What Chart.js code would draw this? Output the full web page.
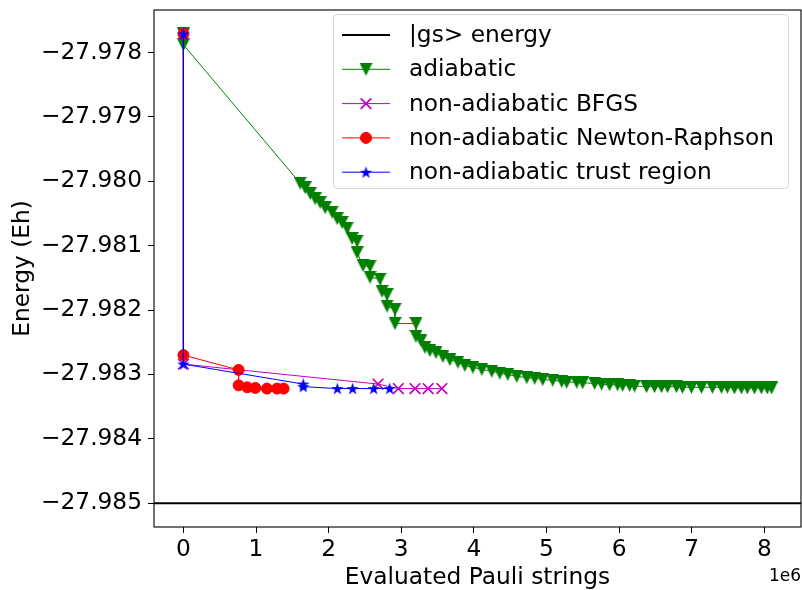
<!DOCTYPE html>
<html>
<head>
<meta charset="utf-8">
<script src="https://cdn.jsdelivr.net/npm/chart.js@4/dist/chart.umd.min.js"></script>
<style>
  html, body { margin: 0; padding: 0; background: #fff; }
</style>
</head>
<body>
<canvas id="chart" width="802" height="590"></canvas>
<script>
// ── Data (x in units of 1e6 evaluated Pauli strings, y in Eh) ────────────────

const gsEnergy = -27.985;

const adiabaticX = [0, 0, 1.608, 1.677, 1.746, 1.814, 1.883, 1.952, 2.048, 2.117, 2.186, 2.254,
  2.323, 2.392, 2.392, 2.474, 2.570, 2.570, 2.708, 2.735, 2.804, 2.804, 2.914, 2.914, 3.203,
  3.203, 3.271, 3.326, 3.395, 3.478, 3.574, 3.670, 3.780, 3.876, 3.986, 4.110, 4.247, 4.357,
  4.467, 4.591, 4.729, 4.838, 4.948, 5.086, 5.210, 5.278, 5.416, 5.498, 5.663, 5.759, 5.869,
  5.979, 6.048, 6.144, 6.213, 6.378, 6.488, 6.584, 6.667, 6.790, 6.873, 6.997, 7.134, 7.285,
  7.409, 7.491, 7.588, 7.684, 7.766, 7.863, 7.959, 8.041, 8.100];
const adiabaticY = [-27.97771, -27.97788, -27.98003, -27.98010, -27.98019, -27.98027, -27.98033,
  -27.98041, -27.98048, -27.98058, -27.98064, -27.98073, -27.98089, -27.98093, -27.98111,
  -27.98131, -27.98132, -27.98149, -27.98152, -27.98171, -27.98176, -27.98194, -27.98199,
  -27.98221, -27.98221, -27.98241, -27.98247, -27.98258, -27.98263, -27.98266, -27.98272,
  -27.98277, -27.98281, -27.98286, -27.98289, -27.98292, -27.98295, -27.98298, -27.98300,
  -27.98303, -27.98305, -27.98306, -27.98308, -27.98309, -27.98311, -27.98312, -27.98312,
  -27.98313, -27.98314, -27.98315, -27.98316, -27.98316, -27.98317, -27.98317, -27.98318,
  -27.98319, -27.98319, -27.98319, -27.98319, -27.98319, -27.98320, -27.98320, -27.98320,
  -27.98320, -27.98320, -27.98320, -27.98321, -27.98321, -27.98321, -27.98321, -27.98321,
  -27.98321, -27.98321];

const bfgsX = [0, 0, 2.68, 2.96, 3.19, 3.37, 3.56];
const bfgsY = [-27.97771, -27.98284, -27.98315, -27.98322, -27.98322, -27.98322, -27.98322];

const newtonX = [0, 0, 0.76, 0.76, 0.88, 0.99, 1.15, 1.29, 1.38];
const newtonY = [-27.97771, -27.98270, -27.98293, -27.98317, -27.98320, -27.98321, -27.98322,
  -27.98322, -27.98322];

const trustX = [0, 0, 1.65, 1.65, 2.12, 2.33, 2.62, 2.84];
const trustY = [-27.97771, -27.98284, -27.98315, -27.98319, -27.98322, -27.98322, -27.98322,
  -27.98322];

const seriesLabels = ['|gs> energy', 'adiabatic', 'non-adiabatic BFGS',
  'non-adiabatic Newton-Raphson', 'non-adiabatic trust region'];

const xTicks = [0, 1, 2, 3, 4, 5, 6, 7, 8];
const yTicks = [-27.985, -27.984, -27.983, -27.982, -27.981, -27.980, -27.979, -27.978];

const xLim = [-0.405, 8.505];
const yLim = [-27.98537, -27.97734];

// ── Markers ─────────────────────────────────────────────────────────────────

const FONT = 'DejaVu Sans';
const FS = 23.3;
const AREA_RIGHT = 801;
const clr = { gs: '#000000', adia: '#008000', bfgs: '#bf00bf', nr: '#ff0000', trust: '#0000ff' };

function triangleDown(color, s) {
  const c = document.createElement('canvas');
  c.width = s; c.height = s;
  const g = c.getContext('2d');
  g.fillStyle = color;
  g.beginPath();
  g.moveTo(0, 0); g.lineTo(s, 0); g.lineTo(s / 2, s);
  g.closePath(); g.fill();
  return c;
}

function starMarker(color, s) {
  const c = document.createElement('canvas');
  c.width = s; c.height = s;
  const g = c.getContext('2d');
  const R = s / 2, r = R * 0.382;
  g.fillStyle = color;
  g.beginPath();
  for (let k = 0; k < 10; k++) {
    const a = -Math.PI / 2 + k * Math.PI / 5;
    const rr = k % 2 ? r : R;
    g.lineTo(R + rr * Math.cos(a), R + rr * Math.sin(a) + 0.5);
  }
  g.closePath(); g.fill();
  return c;
}

const triImg  = triangleDown(clr.adia, 13);
const starImg = starMarker(clr.trust, 13);

const pts = (xs, ys) => xs.map((x, i) => ({ x, y: ys[i] }));

const base = { showLine: true, borderWidth: 1, tension: 0, pointHoverRadius: 0 };

const datasets = [
  { ...base, label: seriesLabels[0], data: [{ x: xLim[0], y: gsEnergy }, { x: xLim[1], y: gsEnergy }],
    borderColor: clr.gs, borderWidth: 2, pointRadius: 0, order: 4, clip: 0 },
  { ...base, label: seriesLabels[1], data: pts(adiabaticX, adiabaticY),
    borderColor: clr.adia, backgroundColor: clr.adia, pointStyle: triImg, pointRadius: 6, order: 3 },
  { ...base, label: seriesLabels[2], data: pts(bfgsX, bfgsY),
    borderColor: clr.bfgs, backgroundColor: clr.bfgs, pointStyle: 'crossRot',
    pointRadius: 7.5, pointBorderWidth: 1.7, order: 2 },
  { ...base, label: seriesLabels[3], data: pts(newtonX, newtonY),
    borderColor: clr.nr, backgroundColor: clr.nr, pointStyle: 'circle',
    pointRadius: 5.5, pointBorderWidth: 1, order: 1 },
  { ...base, label: seriesLabels[4], data: pts(trustX, trustY),
    borderColor: clr.trust, backgroundColor: clr.trust, pointStyle: starImg, pointRadius: 6, order: 0 },
];

// ── Plugins: plot area, frame, legend box, offset text ────────────────────────

// stretch the plot area to the right edge like the matplotlib axes
const areaPlugin = {
  id: 'area',
  afterLayout(chart) {
    const a = chart.chartArea, x = chart.scales.x;
    a.right = AREA_RIGHT; a.width = a.right - a.left;
    x.right = AREA_RIGHT; x.width = x.right - x.left;
    x.configure();
  }
};

const framePlugin = {
  id: 'frame',
  afterDatasetsDraw(chart) {
    const { ctx, chartArea: a } = chart;
    ctx.save();
    ctx.strokeStyle = '#000';
    ctx.lineWidth = 1.1;
    ctx.strokeRect(a.left, a.top, a.right - a.left, a.bottom - a.top);
    ctx.restore();
  }
};

const legendPlugin = {
  id: 'mplLegend',
  afterDraw(chart) {
    const ctx = chart.ctx;
    const bx = 333, by = 14, bw = 455, bh = 174;
    ctx.save();
    ctx.beginPath();
    ctx.roundRect(bx + 0.5, by + 0.5, bw, bh, 4);
    ctx.fillStyle = 'rgba(255,255,255,0.8)';
    ctx.fill();
    ctx.strokeStyle = '#d6d6d6';
    ctx.lineWidth = 1;
    ctx.stroke();

    ctx.font = FS + 'px "' + FONT + '"';
    ctx.textBaseline = 'middle';
    ctx.textAlign = 'left';
    chart.data.datasets.forEach((ds, i) => {
      const y = 35 + i * 34.3;
      ctx.strokeStyle = ds.borderColor;
      ctx.lineWidth = ds.borderWidth;
      ctx.beginPath();
      ctx.moveTo(342, y); ctx.lineTo(390, y);
      ctx.stroke();
      if (ds.pointRadius > 0) {
        ctx.fillStyle = ds.backgroundColor;
        ctx.strokeStyle = ds.borderColor;
        ctx.lineWidth = ds.pointBorderWidth || 1;
        Chart.helpers.drawPoint(ctx, { pointStyle: ds.pointStyle, radius: ds.pointRadius,
          rotation: 0, borderWidth: ds.pointBorderWidth || 1 }, 366, y);
      }
      ctx.fillStyle = '#000';
      ctx.fillText(ds.label, 409, y + 1);
    });

    // offset text of the x axis
    ctx.font = '17px "' + FONT + '"';
    ctx.textAlign = 'right';
    ctx.fillText('1e6', 801, 577);
    ctx.restore();
  }
};

// ── Chart ───────────────────────────────────────────────────────────────────

Chart.defaults.font.family = FONT;
Chart.defaults.font.size = FS;
Chart.defaults.color = '#000';

new Chart(document.getElementById('chart'), {
  type: 'scatter',
  data: { datasets },
  options: {
    responsive: false,
    animation: false,
    events: [],
    layout: { padding: { top: 10, right: 1, left: 0, bottom: 0 } },
    plugins: { legend: { display: false }, tooltip: { enabled: false } },
    scales: {
      x: {
        type: 'linear', min: xLim[0], max: xLim[1],
        afterBuildTicks: s => { s.ticks = xTicks.map(v => ({ value: v })); },
        afterFit: s => { s.height = 63; s.paddingLeft = 0; s.paddingRight = 0; },
        ticks: { callback: v => String(v), padding: 3, maxRotation: 0, autoSkip: false },
        grid: { drawOnChartArea: false, drawTicks: true, tickLength: 6, color: '#000', lineWidth: 1 },
        border: { display: false },
        title: { display: true, text: 'Evaluated Pauli strings', padding: { top: 0, bottom: 0 },
          font: { size: FS, lineHeight: 1.05 } }
      },
      y: {
        type: 'linear', min: yLim[0], max: yLim[1],
        afterBuildTicks: s => { s.ticks = yTicks.map(v => ({ value: v })); },
        afterFit: s => { s.width = 154; s.paddingTop = 0; s.paddingBottom = 0; },
        ticks: { callback: v => v.toFixed(3).replace('-', '\u2212'), padding: 6, autoSkip: false },
        grid: { drawOnChartArea: false, drawTicks: true, tickLength: 6, color: '#000', lineWidth: 1 },
        border: { display: false },
        title: { display: true, text: 'Energy (Eh)', padding: { top: 9, bottom: 0 },
          font: { size: FS, lineHeight: 1.2 } }
      }
    }
  },
  plugins: [areaPlugin, framePlugin, legendPlugin]
});
</script>
</body>
</html>
